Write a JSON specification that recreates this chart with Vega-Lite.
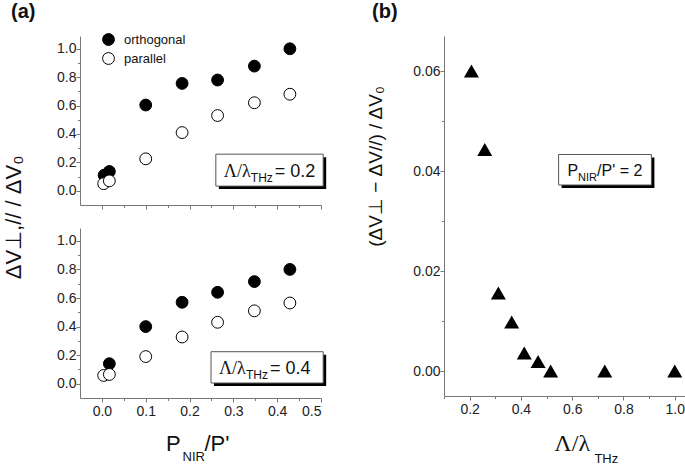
{
  "$schema": "https://vega.github.io/schema/vega-lite/v6.json",
  "padding": {"left": 2, "top": 2, "right": 0, "bottom": 0},
  "config": {
    "font": "Liberation Sans",
    "view": {"stroke": null},
    "axis": {"domainColor": "#777", "tickColor": "#777", "labelColor": "#222", "labelFontSize": 14, "labelFont": "Liberation Sans", "titleFont": "Liberation Sans", "titleFontWeight": "normal", "titleColor": "#111", "titleFontSize": 22, "grid": false, "labelPadding": 2, "domainWidth": 1, "tickWidth": 1, "tickCount": 50, "labelOverlap": false},
    "axisY": {"labelPadding": 0},
    "title": {"font": "Liberation Sans", "fontSize": 20, "fontWeight": "bold", "color": "#111", "anchor": "start"}
  },
  "datasets": {
    "left": [
      {"panel": "0.2", "series": "orthogonal", "x": 0.005, "y": 0.11},
      {"panel": "0.2", "series": "orthogonal", "x": 0.017, "y": 0.136},
      {"panel": "0.2", "series": "orthogonal", "x": 0.1, "y": 0.604},
      {"panel": "0.2", "series": "orthogonal", "x": 0.183, "y": 0.756},
      {"panel": "0.2", "series": "orthogonal", "x": 0.264, "y": 0.78},
      {"panel": "0.2", "series": "orthogonal", "x": 0.348, "y": 0.878},
      {"panel": "0.2", "series": "orthogonal", "x": 0.429, "y": 1.0},
      {"panel": "0.2", "series": "parallel", "x": 0.004, "y": 0.05},
      {"panel": "0.2", "series": "parallel", "x": 0.017, "y": 0.07},
      {"panel": "0.2", "series": "parallel", "x": 0.1, "y": 0.225},
      {"panel": "0.2", "series": "parallel", "x": 0.183, "y": 0.41},
      {"panel": "0.2", "series": "parallel", "x": 0.264, "y": 0.53},
      {"panel": "0.2", "series": "parallel", "x": 0.348, "y": 0.62},
      {"panel": "0.2", "series": "parallel", "x": 0.429, "y": 0.68},
      {"panel": "0.4", "series": "orthogonal", "x": 0.017, "y": 0.14},
      {"panel": "0.4", "series": "orthogonal", "x": 0.1, "y": 0.4},
      {"panel": "0.4", "series": "orthogonal", "x": 0.183, "y": 0.57},
      {"panel": "0.4", "series": "orthogonal", "x": 0.264, "y": 0.64},
      {"panel": "0.4", "series": "orthogonal", "x": 0.348, "y": 0.715},
      {"panel": "0.4", "series": "orthogonal", "x": 0.429, "y": 0.8},
      {"panel": "0.4", "series": "parallel", "x": 0.004, "y": 0.058},
      {"panel": "0.4", "series": "parallel", "x": 0.017, "y": 0.065},
      {"panel": "0.4", "series": "parallel", "x": 0.1, "y": 0.19},
      {"panel": "0.4", "series": "parallel", "x": 0.183, "y": 0.327},
      {"panel": "0.4", "series": "parallel", "x": 0.264, "y": 0.43},
      {"panel": "0.4", "series": "parallel", "x": 0.348, "y": 0.51},
      {"panel": "0.4", "series": "parallel", "x": 0.429, "y": 0.565}
    ],
    "right": [
      {"ratio": 0.207, "diff": 0.06},
      {"ratio": 0.259, "diff": 0.0443},
      {"ratio": 0.312, "diff": 0.0156},
      {"ratio": 0.364, "diff": 0.0098},
      {"ratio": 0.413, "diff": 0.0036},
      {"ratio": 0.467, "diff": 0.0019},
      {"ratio": 0.516, "diff": 0.0},
      {"ratio": 0.727, "diff": 0.0},
      {"ratio": 1.0, "diff": 0.0}
    ]
  },
  "spacing": 38,
  "hconcat": [
    {
      "title": {"text": "(a)", "frame": "bounds", "dx": 9, "offset": 11},
      "spacing": 30,
      "hconcat": [
        {
          "width": 1,
          "height": 362,
          "data": {"values": [{}]},
          "mark": {"type": "point", "opacity": 0, "size": 0},
          "encoding": {
            "y": {"datum": 0.5, "type": "quantitative", "scale": {"domain": [0, 1], "nice": false},
              "axis": {"title": "ΔV⊥,// / ΔV₀", "domain": false, "ticks": false, "labels": false, "titlePadding": 0, "titleAngle": -90}}
          }
        },
        {
          "spacing": 18,
          "resolve": {"scale": {"fill": "independent"}, "legend": {"fill": "independent"}},
          "vconcat": [
            {
              "width": 241,
              "height": 169,
              "layer": [
                {
                  "data": {"name": "left"},
                  "transform": [{"filter": "datum.panel === '0.2'"}],
                  "mark": {"type": "point", "filled": true, "shape": "circle", "size": 140, "stroke": "black", "strokeWidth": 1, "opacity": 1},
                  "encoding": {
                    "x": {"field": "x", "type": "quantitative", "scale": {"domain": [-0.05, 0.5], "nice": false},
                      "axis": {"title": null, "labels": false, "values": [0, 0.05, 0.1, 0.15, 0.2, 0.25, 0.3, 0.35, 0.4, 0.45, 0.5],
                        "tickSize": {"condition": {"test": "abs(datum.value*10 - round(datum.value*10)) < 0.001", "value": 4}, "value": 2.5}}},
                    "y": {"field": "y", "type": "quantitative", "scale": {"domain": [-0.1, 1.09], "nice": false},
                      "axis": {"title": null, "values": [0, 0.1, 0.2, 0.3, 0.4, 0.5, 0.6, 0.7, 0.8, 0.9, 1.0],
                        "labelExpr": "abs(datum.value*5 - round(datum.value*5)) < 0.001 ? format(datum.value, '.1f') : ''",
                        "tickSize": {"condition": {"test": "abs(datum.value*5 - round(datum.value*5)) < 0.001", "value": 4}, "value": 2.5}}},
                    "fill": {"field": "series", "type": "nominal", "scale": {"domain": ["orthogonal", "parallel"], "range": ["black", "white"]},
                      "legend": {"orient": "none", "legendX": 22, "legendY": -3, "title": null, "symbolType": "circle", "symbolSize": 140, "symbolStrokeColor": "black", "symbolStrokeWidth": 1, "labelFont": "Liberation Sans", "labelFontSize": 13, "labelColor": "#111", "rowPadding": 2, "padding": 0, "labelOffset": 9, "direction": "vertical"}}
                  }
                },
                {
                  "data": {"values": [{}]},
                  "mark": {"type": "rect", "fill": "black", "xOffset": 3, "x2Offset": 3, "yOffset": 3, "y2Offset": 3},
                  "encoding": {"x": {"datum": 0.26}, "x2": {"datum": 0.505}, "y": {"datum": 0.258}, "y2": {"datum": 0.033}}
                },
                {
                  "data": {"values": [{}]},
                  "mark": {"type": "rect", "fill": "white", "stroke": "#555", "strokeWidth": 1},
                  "encoding": {"x": {"datum": 0.26}, "x2": {"datum": 0.505}, "y": {"datum": 0.258}, "y2": {"datum": 0.033}}
                },
                {
                  "data": {"values": [{}]},
                  "mark": {"type": "text", "text": "Λ/λ", "font": "Liberation Serif", "fontSize": 18, "align": "left", "baseline": "alphabetic", "dx": 8, "dy": -9, "color": "#111"},
                  "encoding": {"x": {"datum": 0.26}, "y": {"datum": 0.033}}
                },
                {
                  "data": {"values": [{}]},
                  "mark": {"type": "text", "text": "THz", "font": "Liberation Sans", "fontSize": 12, "align": "left", "baseline": "alphabetic", "dx": 35, "dy": -4, "color": "#111"},
                  "encoding": {"x": {"datum": 0.26}, "y": {"datum": 0.033}}
                },
                {
                  "data": {"values": [{}]},
                  "mark": {"type": "text", "text": "= 0.2", "font": "Liberation Sans", "fontSize": 18, "align": "left", "baseline": "alphabetic", "dx": 59, "dy": -9, "color": "#111"},
                  "encoding": {"x": {"datum": 0.26}, "y": {"datum": 0.033}}
                }
              ]
            },
            {
              "width": 241,
              "height": 170,
              "layer": [
                {
                  "data": {"name": "left"},
                  "transform": [{"filter": "datum.panel === '0.4'"}],
                  "mark": {"type": "point", "filled": true, "shape": "circle", "size": 140, "stroke": "black", "strokeWidth": 1, "opacity": 1},
                  "encoding": {
                    "x": {"field": "x", "type": "quantitative", "scale": {"domain": [-0.05, 0.5], "nice": false},
                      "axis": {"title": null, "values": [0, 0.05, 0.1, 0.15, 0.2, 0.25, 0.3, 0.35, 0.4, 0.45, 0.5],
                        "labelExpr": "abs(datum.value*10 - round(datum.value*10)) < 0.001 ? format(datum.value, '.1f') : ''",
                        "tickSize": {"condition": {"test": "abs(datum.value*10 - round(datum.value*10)) < 0.001", "value": 4}, "value": 2.5}}},
                    "y": {"field": "y", "type": "quantitative", "scale": {"domain": [-0.1, 1.09], "nice": false},
                      "axis": {"title": null, "values": [0, 0.1, 0.2, 0.3, 0.4, 0.5, 0.6, 0.7, 0.8, 0.9, 1.0],
                        "labelExpr": "abs(datum.value*5 - round(datum.value*5)) < 0.001 ? format(datum.value, '.1f') : ''",
                        "tickSize": {"condition": {"test": "abs(datum.value*5 - round(datum.value*5)) < 0.001", "value": 4}, "value": 2.5}}},
                    "fill": {"field": "series", "type": "nominal", "scale": {"domain": ["orthogonal", "parallel"], "range": ["black", "white"]}, "legend": null}
                  }
                },
                {
                  "data": {"values": [{}]},
                  "mark": {"type": "rect", "fill": "black", "xOffset": 3, "x2Offset": 3, "yOffset": 3, "y2Offset": 3},
                  "encoding": {"x": {"datum": 0.249}, "x2": {"datum": 0.505}, "y": {"datum": 0.224}, "y2": {"datum": 0.005}}
                },
                {
                  "data": {"values": [{}]},
                  "mark": {"type": "rect", "fill": "white", "stroke": "#555", "strokeWidth": 1},
                  "encoding": {"x": {"datum": 0.249}, "x2": {"datum": 0.505}, "y": {"datum": 0.224}, "y2": {"datum": 0.005}}
                },
                {
                  "data": {"values": [{}]},
                  "mark": {"type": "text", "text": "Λ/λ", "font": "Liberation Serif", "fontSize": 18, "align": "left", "baseline": "alphabetic", "dx": 8, "dy": -9, "color": "#111"},
                  "encoding": {"x": {"datum": 0.249}, "y": {"datum": 0.005}}
                },
                {
                  "data": {"values": [{}]},
                  "mark": {"type": "text", "text": "THz", "font": "Liberation Sans", "fontSize": 12, "align": "left", "baseline": "alphabetic", "dx": 35, "dy": -4, "color": "#111"},
                  "encoding": {"x": {"datum": 0.249}, "y": {"datum": 0.005}}
                },
                {
                  "data": {"values": [{}]},
                  "mark": {"type": "text", "text": "= 0.4", "font": "Liberation Sans", "fontSize": 18, "align": "left", "baseline": "alphabetic", "dx": 59, "dy": -9, "color": "#111"},
                  "encoding": {"x": {"datum": 0.249}, "y": {"datum": 0.005}}
                },
                {
                  "data": {"values": [{}]},
                  "mark": {"type": "text", "text": "P", "font": "Liberation Sans", "fontSize": 22, "align": "left", "baseline": "alphabetic", "dy": 53, "color": "#111"},
                  "encoding": {"x": {"datum": 0.146}, "y": {"datum": -0.1}}
                },
                {
                  "data": {"values": [{}]},
                  "mark": {"type": "text", "text": "NIR", "font": "Liberation Sans", "fontSize": 13, "align": "left", "baseline": "alphabetic", "dy": 63, "color": "#111"},
                  "encoding": {"x": {"datum": 0.184}, "y": {"datum": -0.1}}
                },
                {
                  "data": {"values": [{}]},
                  "mark": {"type": "text", "text": "/P'", "font": "Liberation Sans", "fontSize": 22, "align": "left", "baseline": "alphabetic", "dy": 53, "color": "#111"},
                  "encoding": {"x": {"datum": 0.234}, "y": {"datum": -0.1}}
                }
              ]
            }
          ]
        }
      ]
    },
    {
      "title": {"text": "(b)", "frame": "group", "dx": -72, "offset": 14},
      "width": 241,
      "height": 360,
      "layer": [
        {
          "data": {"name": "right"},
          "mark": {"type": "point", "filled": true, "shape": "triangle-up", "size": 225, "color": "black", "opacity": 1},
          "encoding": {
            "x": {"field": "ratio", "type": "quantitative", "scale": {"domain": [0.1, 1.04], "nice": false},
              "axis": {"title": null, "values": [0.1, 0.2, 0.3, 0.4, 0.5, 0.6, 0.7, 0.8, 0.9, 1.0],
                "labelExpr": "abs(datum.value*5 - round(datum.value*5)) < 0.001 ? format(datum.value, '.1f') : ''",
                "tickSize": {"condition": {"test": "abs(datum.value*5 - round(datum.value*5)) < 0.001", "value": 4}, "value": 2.5}}},
            "y": {"field": "diff", "type": "quantitative", "scale": {"domain": [-0.005, 0.067], "nice": false},
              "axis": {"title": "(ΔV⊥ − ΔV//) / ΔV₀", "titleFontSize": 19, "titleX": -63, "titleY": 130, "titleAlign": "center", "titleBaseline": "alphabetic", "titleAngle": -90,
                "values": [0, 0.01, 0.02, 0.03, 0.04, 0.05, 0.06],
                "labelExpr": "abs(datum.value*50 - round(datum.value*50)) < 0.001 ? format(datum.value, '.2f') : ''",
                "tickSize": {"condition": {"test": "abs(datum.value*50 - round(datum.value*50)) < 0.001", "value": 4}, "value": 2.5}}}
          }
        },
        {
          "data": {"values": [{}]},
          "mark": {"type": "rect", "fill": "black", "xOffset": 3, "x2Offset": 3, "yOffset": 3, "y2Offset": 3},
          "encoding": {"x": {"datum": 0.547}, "x2": {"datum": 0.909}, "y": {"datum": 0.0433}, "y2": {"datum": 0.0372}}
        },
        {
          "data": {"values": [{}]},
          "mark": {"type": "rect", "fill": "white", "stroke": "#555", "strokeWidth": 1},
          "encoding": {"x": {"datum": 0.547}, "x2": {"datum": 0.909}, "y": {"datum": 0.0433}, "y2": {"datum": 0.0372}}
        },
        {
          "data": {"values": [{}]},
          "mark": {"type": "text", "text": "P", "font": "Liberation Sans", "fontSize": 16, "align": "left", "baseline": "alphabetic", "dx": 9, "dy": -9, "color": "#111"},
          "encoding": {"x": {"datum": 0.547}, "y": {"datum": 0.0372}}
        },
        {
          "data": {"values": [{}]},
          "mark": {"type": "text", "text": "NIR", "font": "Liberation Sans", "fontSize": 11, "align": "left", "baseline": "alphabetic", "dx": 19.5, "dy": -4, "color": "#111"},
          "encoding": {"x": {"datum": 0.547}, "y": {"datum": 0.0372}}
        },
        {
          "data": {"values": [{}]},
          "mark": {"type": "text", "text": "/P' = 2", "font": "Liberation Sans", "fontSize": 16, "align": "left", "baseline": "alphabetic", "dx": 38.5, "dy": -9, "color": "#111"},
          "encoding": {"x": {"datum": 0.547}, "y": {"datum": 0.0372}}
        },
        {
          "data": {"values": [{}]},
          "mark": {"type": "text", "text": "Λ/λ", "font": "Liberation Serif", "fontSize": 24, "align": "left", "baseline": "alphabetic", "dy": 55, "color": "#111"},
          "encoding": {"x": {"datum": 0.5305}, "y": {"datum": -0.005}}
        },
        {
          "data": {"values": [{}]},
          "mark": {"type": "text", "text": "THz", "font": "Liberation Sans", "fontSize": 13, "align": "left", "baseline": "alphabetic", "dy": 67, "color": "#111"},
          "encoding": {"x": {"datum": 0.6866}, "y": {"datum": -0.005}}
        }
      ]
    }
  ]
}
